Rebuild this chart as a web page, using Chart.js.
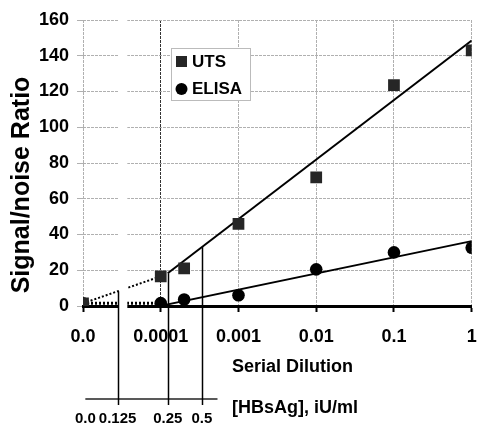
<!DOCTYPE html>
<html lang="en">
  <head>
    <meta charset="UTF-8" />
    <title>UTS vs ELISA</title>
    <style>
      body {
        margin: 0;
        background: #fff;
        font-family: Arial, "Liberation Sans", Helvetica, sans-serif;
      }
    </style>
    <script src="https://cdn.jsdelivr.net/npm/chart.js"></script>
  </head>
  <body>
    <div style="width: 480px; height: 427px">
      <canvas id="snChart"></canvas>
    </div>

    <script>
      // serial dilutions (0 = blank, drawn one decade left of 0.0001)
      const dilutions = [0, 0.0001, 0.0002, 0.001, 0.01, 0.1, 1];
      const utsRatio = [1.5, 16.6, 21, 46, 72, 123.5, 143];
      const elisaRatio = [1.5, 1.6, 3.6, 6, 20.5, 30, 32.6];

      // fitted lines (solid) and extension to the blank (dotted)
      const utsFitDil = [0.000123, 1];
      const utsFitRatio = [18.3, 148.5];
      const elisaFitDil = [0.00011, 1];
      const elisaFitRatio = [0.5, 36.3];
      const utsExtDil = [0, 0.0001];
      const utsExtRatio = [1.5, 16.6];
      const elisaExtDil = [0, 0.0001];
      const elisaExtRatio = [1.5, 1.6];

      const dilutionTicks = ["0.0", "0.0001", "0.001", "0.01", "0.1", "1"];
      const yTicks = [0, 20, 40, 60, 80, 100, 120, 140, 160];

      // [HBsAg] scale under the dilution axis (positions in axis units)
      const concLabels = ["0.0", "0.125", "0.25", "0.5"];
      const concPos = [-4.97, -4.555, -3.91, -3.47];
      const concAxisEnd = -3.27;
      const axisBreak = [-4.55, -4.43];

      const FONT = "Arial, 'Liberation Sans', Helvetica, sans-serif";

      // log10 position on the x axis, blank sits at -5
      function pos(d) {
        return d === 0 ? -5 : Math.log10(d);
      }
      function pts(xs, ys) {
        return xs.map((d, i) => ({ x: pos(d), y: ys[i] }));
      }
      function interp(xs, ys, v) {
        const a = pos(xs[0]);
        const b = pos(xs[1]);
        return ys[0] + ((ys[1] - ys[0]) * (v - a)) / (b - a);
      }
      function utsAt(v) {
        if (v <= pos(utsExtDil[1])) return interp(utsExtDil, utsExtRatio, v);
        return interp(utsFitDil, utsFitRatio, v);
      }

      const extras = {
        id: "extras",
        afterDatasetsDraw(chart) {
          const ctx = chart.ctx;
          const xs = chart.scales.x;
          const ys = chart.scales.y;
          const area = chart.chartArea;

          // axis break
          const b1 = xs.getPixelForValue(axisBreak[0]) + 1;
          const b2 = xs.getPixelForValue(axisBreak[1]);
          ctx.save();
          ctx.fillStyle = "#fff";
          ctx.fillRect(b1, area.top - 2, b2 - b1, area.bottom - area.top + 6);

          // [HBsAg] axis
          const axisY = area.bottom + 93;
          ctx.strokeStyle = "#222";
          ctx.lineWidth = 1.5;
          ctx.beginPath();
          ctx.moveTo(xs.getPixelForValue(concPos[0]), axisY);
          ctx.lineTo(xs.getPixelForValue(concAxisEnd), axisY);
          ctx.stroke();

          ctx.strokeStyle = "#000";
          for (let i = 1; i < concPos.length; i++) {
            const px = Math.round(xs.getPixelForValue(concPos[i])) + 0.5;
            ctx.beginPath();
            ctx.moveTo(px, ys.getPixelForValue(utsAt(concPos[i])));
            ctx.lineTo(px, axisY + 6);
            ctx.stroke();
          }

          ctx.fillStyle = "#000";
          ctx.font = "bold 15px " + FONT;
          ctx.textAlign = "center";
          ctx.textBaseline = "middle";
          concLabels.forEach((t, i) => {
            ctx.fillText(t, xs.getPixelForValue(concPos[i]), axisY + 20);
          });

          // axis titles
          ctx.font = "bold 18px " + FONT;
          ctx.textAlign = "left";
          ctx.fillText("Serial Dilution", area.left + 149, area.bottom + 61);
          ctx.fillText("[HBsAg], iU/ml", area.left + 149, area.bottom + 102);

          ctx.save();
          ctx.translate(22, 185);
          ctx.rotate(-Math.PI / 2);
          ctx.textAlign = "center";
          ctx.font = "bold 25px " + FONT;
          ctx.fillText("Signal/noise Ratio", 0, 0);
          ctx.restore();

          // legend
          const lx = 171;
          const ly = 48;
          ctx.fillStyle = "#fff";
          ctx.fillRect(lx, ly, 79, 52);
          ctx.strokeStyle = "#bbb";
          ctx.lineWidth = 1;
          ctx.strokeRect(lx + 0.5, ly + 0.5, 79, 52);
          ctx.fillStyle = "#262626";
          ctx.fillRect(lx + 5, ly + 8, 11, 11);
          ctx.fillStyle = "#000";
          ctx.beginPath();
          ctx.arc(lx + 10.5, ly + 41, 6, 0, Math.PI * 2);
          ctx.fill();
          ctx.font = "bold 17px " + FONT;
          ctx.textAlign = "left";
          ctx.fillText(chart.data.datasets[0].label, lx + 21, ly + 14);
          ctx.fillText(chart.data.datasets[1].label, lx + 21, ly + 41);
          ctx.restore();
        },
      };

      const ctx = document.getElementById("snChart").getContext("2d");
      new Chart(ctx, {
        type: "scatter",
        data: {
          datasets: [
            {
              label: "UTS",
              data: pts(dilutions, utsRatio),
              pointStyle: "rect",
              pointRadius: 8.3,
              backgroundColor: "#262626",
              borderWidth: 0,
              order: 0,
            },
            {
              label: "ELISA",
              data: pts(dilutions, elisaRatio),
              pointStyle: "circle",
              pointRadius: 6.3,
              backgroundColor: "#000",
              borderWidth: 0,
              order: 0,
            },
            {
              label: "UTS fit",
              data: pts(utsFitDil, utsFitRatio),
              showLine: true,
              pointRadius: 0,
              borderColor: "#000",
              borderWidth: 2,
              order: 1,
            },
            {
              label: "ELISA fit",
              data: pts(elisaFitDil, elisaFitRatio),
              showLine: true,
              pointRadius: 0,
              borderColor: "#000",
              borderWidth: 2,
              order: 1,
            },
            {
              label: "UTS blank",
              data: pts(utsExtDil, utsExtRatio),
              showLine: true,
              pointRadius: 0,
              borderColor: "#000",
              borderWidth: 2,
              borderDash: [2, 2],
              order: 1,
            },
            {
              label: "ELISA blank",
              data: pts(elisaExtDil, elisaExtRatio),
              showLine: true,
              pointRadius: 0,
              borderColor: "#000",
              borderWidth: 3,
              borderDash: [2, 2],
              order: 1,
            },
          ],
        },
        options: {
          responsive: true,
          maintainAspectRatio: false,
          animation: false,
          layout: { padding: { top: 20, right: 4, left: 0, bottom: 0 } },
          plugins: {
            legend: { display: false },
            tooltip: { enabled: false },
          },
          scales: {
            x: {
              type: "linear",
              min: -5,
              max: 0,
              afterFit: (s) => {
                s.height = 121;
                s.paddingLeft = 0;
                s.paddingRight = 0;
              },
              afterBuildTicks: (s) => {
                s.ticks = dilutionTicks.map((t, i) => ({ value: i - 5 }));
              },
              ticks: {
                color: "#000",
                font: { family: FONT, size: 18, weight: "bold" },
                padding: 14,
                callback: (v) => dilutionTicks[Math.round(v) + 5],
              },
              grid: {
                color: (c) =>
                  c.tick && c.tick.value === -4 ? "#333" : "#b0b0b0",
                lineWidth: 1,
                tickLength: 6,
                tickColor: "#000",
                tickWidth: 2,
              },
              border: { display: true, color: "#000", width: 3, dash: [3, 1] },
            },
            y: {
              min: 0,
              max: 160,
              afterFit: (s) => {
                s.width = 83;
                s.paddingTop = 0;
                s.paddingBottom = 0;
              },
              afterBuildTicks: (s) => {
                s.ticks = yTicks.map((v) => ({ value: v }));
              },
              ticks: {
                color: "#000",
                font: { family: FONT, size: 18, weight: "bold" },
                padding: 8,
              },
              grid: {
                color: "#b0b0b0",
                tickLength: 6,
                tickColor: "#b0b0b0",
              },
              border: { display: false, dash: [3, 1] },
            },
          },
        },
        plugins: [extras],
      });
    </script>
  </body>
</html>
